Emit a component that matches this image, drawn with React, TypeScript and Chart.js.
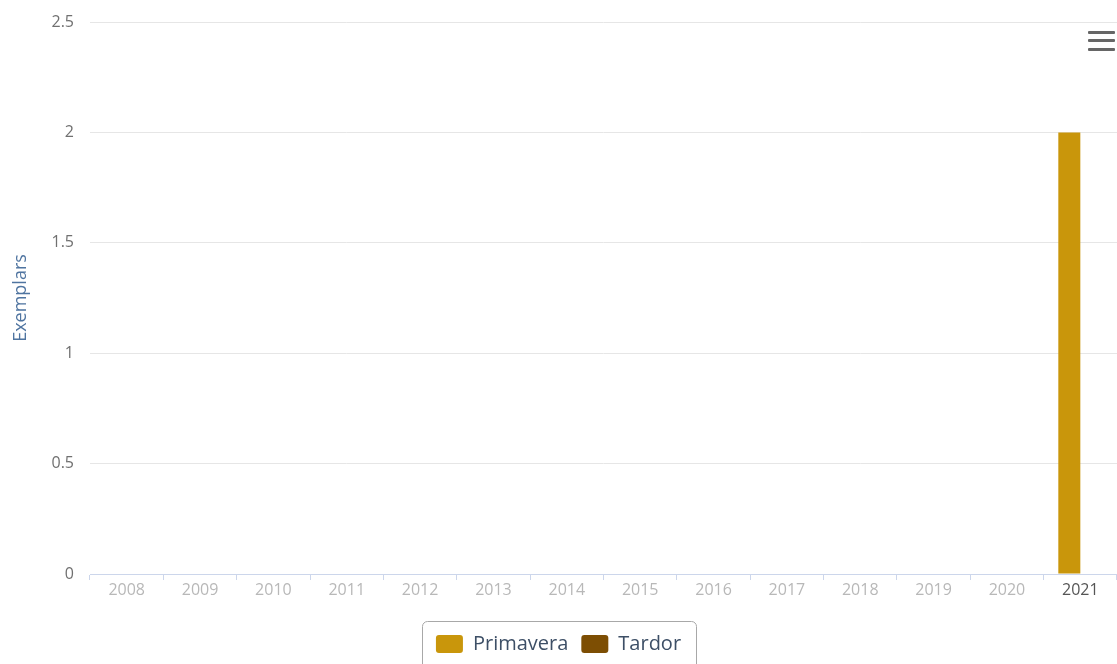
import React, { useEffect, useRef } from "react";
import { Chart, registerables } from "chart.js";

Chart.register(...registerables);

const years = ["2008", "2009", "2010", "2011", "2012", "2013", "2014", "2015", "2016", "2017", "2018", "2019", "2020", "2021"];
const primavera = [0, 0, 0, 0, 0, 0, 0, 0, 0, 0, 0, 0, 0, 2];
const tardor = [0, 0, 0, 0, 0, 0, 0, 0, 0, 0, 0, 0, 0, 0];
const yTicks = [0, 0.5, 1, 1.5, 2, 2.5];

const legendBox = {
  id: "legendBox",
  afterDraw(chart: any) {
    const lg = chart.legend;
    if (!lg || !lg.legendHitBoxes || !lg.legendHitBoxes.length) return;
    const hb = lg.legendHitBoxes;
    const left = Math.min(...hb.map((h: any) => h.left)) - 14;
    const right = Math.max(...hb.map((h: any) => h.left + h.width)) + 15;
    const top = lg.top;
    const bottom = chart.height + 6;
    const ctx = chart.ctx;
    ctx.save();
    ctx.strokeStyle = "#a8a8a8";
    ctx.lineWidth = 1;
    ctx.beginPath();
    ctx.roundRect(Math.round(left) + 0.5, Math.round(top) + 0.5, Math.round(right - left), bottom - top, 5);
    ctx.stroke();
    ctx.restore();
  },
};

export default function App() {
  const ref = useRef<HTMLCanvasElement>(null);
  useEffect(() => {
    if (!ref.current) return;
    const chart = new Chart(ref.current, {
      type: "bar",
      data: {
        labels: years,
        datasets: [
          { label: "Primavera", data: primavera, backgroundColor: "#c9960b", borderWidth: 0 },
          { label: "Tardor", data: tardor, backgroundColor: "#7d4e03", borderWidth: 0 },
        ],
      },
      plugins: [legendBox],
      options: {
        responsive: false,
        animation: false,
        layout: { padding: { top: 22, right: 0, left: 0, bottom: 0 } },
        datasets: { bar: { categoryPercentage: 0.6, barPercentage: 1.0 } },
        plugins: {
          tooltip: { enabled: false },
          legend: {
            position: "bottom",
            labels: {
              font: { family: "Open Sans", size: 20 },
              color: "#3d4f66",
              boxWidth: 27,
              boxHeight: 18,
              padding: 13,
              useBorderRadius: true,
              borderRadius: 3,
            },
          },
        },
        scales: {
          x: {
            afterFit: (s: any) => { s.height = 47; },
            grid: { display: true, drawOnChartArea: false, drawTicks: true, tickLength: 6, color: "#ccd6eb", offset: true },
            border: { display: true, color: "#ccd6eb" },
            ticks: {
              padding: 1,
              maxRotation: 0,
              autoSkip: false,
              font: { family: "Open Sans", size: 16 },
              color: (c: any) => (c.index === years.length - 1 ? "#555555" : "#b8b8b8"),
            },
          },
          y: {
            min: 0,
            max: 2.5,
            afterFit: (s: any) => { s.width = 90; s.paddingTop = 0; s.paddingBottom = 0; },
            afterBuildTicks: (s: any) => { s.ticks = yTicks.map((v) => ({ value: v })); },
            grid: { color: "#e6e6e6", drawTicks: false },
            border: { display: false },
            ticks: {
              padding: 16,
              font: { family: "Open Sans", size: 16 },
              color: "#707070",
              callback: (v: any) => String(v),
            },
            title: {
              display: true,
              text: "Exemplars",
              color: "#4f74a0",
              font: { family: "Open Sans", size: 18 },
              padding: { top: 10, bottom: 0 },
            },
          },
        },
      },
    });
    return () => chart.destroy();
  }, []);
  const bar: React.CSSProperties = { position: "absolute", left: 1088, width: 27, height: 3, background: "#666", borderRadius: 1 };
  return (
    <div style={{ position: "absolute", left: 0, top: 0, width: 1117, height: 664, background: "#fff", overflow: "hidden" }}>
      <canvas ref={ref} width={1117} height={664} style={{ display: "block" }} />
      <div style={{ ...bar, top: 31 }} />
      <div style={{ ...bar, top: 39 }} />
      <div style={{ ...bar, top: 48 }} />
    </div>
  );
}
